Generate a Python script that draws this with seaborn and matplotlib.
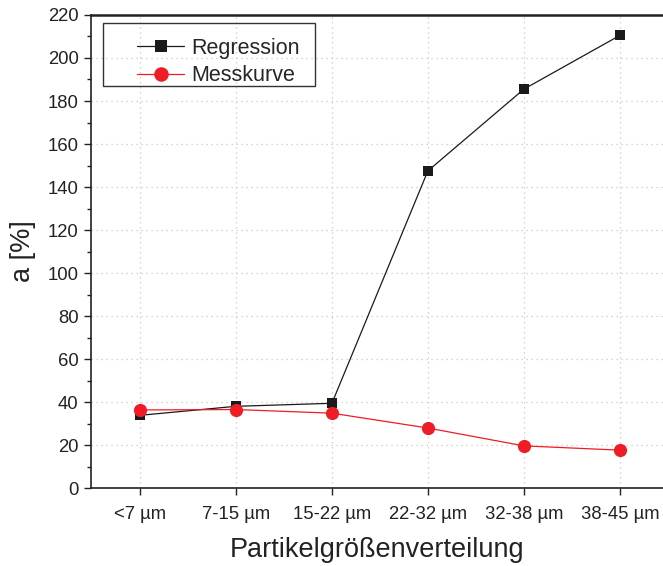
import matplotlib
matplotlib.use("Agg")
import matplotlib.pyplot as plt
from matplotlib.patches import Rectangle
from matplotlib.ticker import MultipleLocator
import pandas as pd
import seaborn as sns

categories = ["<7 µm", "7-15 µm", "15-22 µm", "22-32 µm", "32-38 µm", "38-45 µm"]
regression = [33.8, 38.0, 39.4, 147.5, 185.5, 210.5]
messkurve = [36.3, 36.5, 34.8, 27.9, 19.6, 17.6]

sns.set_theme(style="ticks")
plt.rcParams["font.family"] = ["Liberation Sans", "DejaVu Sans"]

df = pd.DataFrame({
    "Partikelgröße": categories * 2,
    "a": regression + messkurve,
    "Serie": ["Regression"] * len(categories) + ["Messkurve"] * len(categories),
})

fig = plt.figure(figsize=(6.63, 5.66), dpi=100)
ax = fig.add_axes([0.1373, 0.1378, 0.8627, 0.8357])

sns.lineplot(
    data=df, x="Partikelgröße", y="a", hue="Serie", style="Serie",
    palette={"Regression": "#1a1a1a", "Messkurve": "#ee1c25"},
    markers={"Regression": "s", "Messkurve": "o"}, dashes=False,
    markersize=8, markeredgewidth=0, linewidth=0.9, sort=False, ax=ax,
)
# circle markers slightly larger than squares
for line in ax.get_lines():
    if line.get_marker() == "o":
        line.set_markersize(9.5)
    elif line.get_marker() == "s":
        line.set_markersize(7.5)

ax.set_xlim(-0.51, 5.45)
ax.set_ylim(0, 220)
ax.yaxis.set_major_locator(MultipleLocator(20))
ax.yaxis.set_minor_locator(MultipleLocator(10))
ax.grid(True, which="major", color="#c8c8c8", linestyle=(0, (1, 3)), linewidth=0.9)

for name, s in ax.spines.items():
    s.set_color("#222222")
    s.set_linewidth(1.2)
ax.spines["right"].set_visible(False)
ax.spines["top"].set_visible(True)
ax.spines["top"].set_linewidth(1.8)

ax.tick_params(axis="both", which="major", direction="out", length=5, width=1,
               labelsize=13.3, colors="#222222", pad=4)
ax.tick_params(axis="y", which="minor", direction="out", length=3, width=1, colors="#222222")
ax.tick_params(axis="x", pad=8)

ax.set_xlabel("Partikelgrößenverteilung", fontsize=19.5, color="#222222", labelpad=10)
ax.set_ylabel("a [%]", fontsize=19.5, color="#222222", labelpad=8)

# legend entries without their own frame; a separate box is drawn around them
handles, labels = ax.get_legend_handles_labels()
for h in handles:
    h.set_markersize(h.get_markersize() * 1.1)
leg = ax.legend(handles, labels, loc="upper left", bbox_to_anchor=(0.2066, 0.933),
                bbox_transform=fig.transFigure, fontsize=15.5, frameon=False,
                handlelength=2.2, borderpad=0, borderaxespad=0,
                labelspacing=0.3, handletextpad=0.3)
fig.add_artist(Rectangle((0.1554, 0.848), 0.3198, 0.1113, transform=fig.transFigure,
                         facecolor="none", edgecolor="#333333", linewidth=1.0,
                         zorder=6))

fig.savefig("out.png", dpi=100)
